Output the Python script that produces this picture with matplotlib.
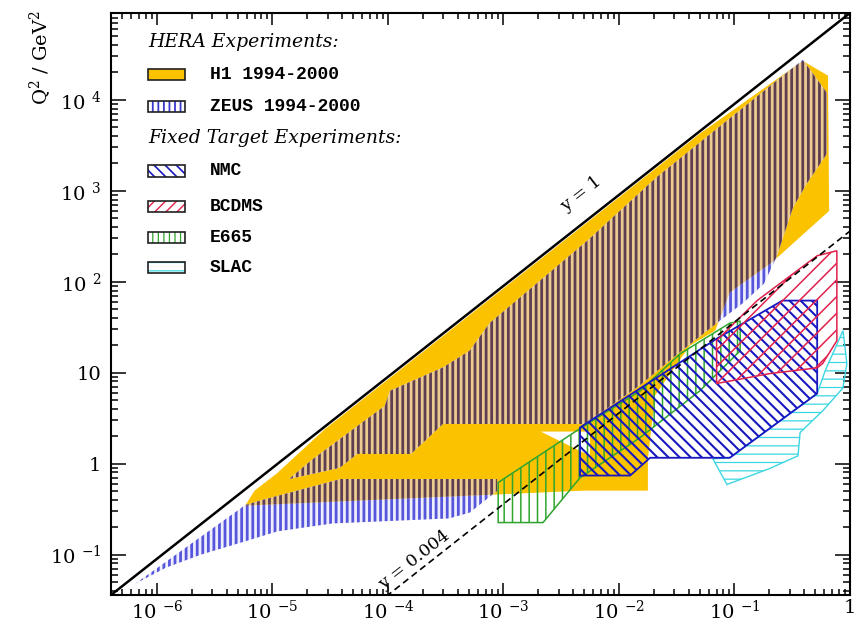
import numpy as np
import matplotlib
matplotlib.use("Agg")
import matplotlib.pyplot as plt
from matplotlib.path import Path
from matplotlib.patches import PathPatch, Polygon, Rectangle
from matplotlib.ticker import LogLocator, NullFormatter

plt.rcParams['font.family'] = ['DejaVu Serif']
plt.rcParams['mathtext.fontset'] = 'dejavuserif'

# kinematic regions, vertices (x, Q^2 in GeV^2)
h1_x = [5.8e-6, 7.0e-6, 1.09e-5, 2.85e-5, 3.1e-3, 0.050, 0.39, 0.645, 0.66,
        0.21, 0.091, 0.068, 0.041, 0.0205, 0.0178, 0.0178, 4.9e-3, 4.9e-3]
h1_q2 = [0.345, 0.505, 0.78, 2.4, 262, 4230, 26800, 18400, 600,
         162, 76, 29, 19.8, 5.6, 1.13, 0.505, 0.505, 0.345]
# white gap inside the H1 region
h1_hole_x = [1.2e-3, 2.1e-3, 5.6e-3, 5.6e-3]
h1_hole_q2 = [1.22, 2.25, 2.25, 1.22]

zeus_lo_x = [6.5e-7, 5.8e-6, 8.3e-6, 3.8e-5, 8.8e-4, 8.8e-4, 5.1e-4, 3.4e-4,
             3.3e-5, 1.1e-5, 5.8e-6, 2.4e-6, 1.2e-6]
zeus_lo_q2 = [0.048, 0.35, 0.40, 0.67, 0.67, 0.50, 0.29, 0.25,
              0.22, 0.18, 0.14, 0.10, 0.072]
zeus_hi_x = [1.4e-5, 2.2e-5, 6.6e-5, 9.4e-5, 1.04e-4, 3.0e-4, 5.1e-4, 7.6e-4,
             5.3e-3, 2.1e-2, 0.39, 0.63, 0.63, 0.42, 0.32, 0.23, 0.18, 0.12,
             0.07, 0.034, 0.015, 5.6e-3, 5.1e-3, 3.0e-4, 1.6e-4, 5.5e-5, 3.8e-5]
zeus_hi_q2 = [0.68, 1.1, 3.1, 4.3, 6.3, 11.4, 17.4, 35,
              280, 1390, 27500, 11900, 2550, 1190, 650, 184, 95, 59,
              35, 17, 7.2, 3.0, 2.75, 2.75, 1.3, 1.3, 0.9]

nmc_x = [4.6e-3, 4.6e-3, 0.0125, 0.0186, 0.091, 0.52, 0.52, 0.26, 0.070]
nmc_q2 = [2.5, 0.74, 0.74, 1.16, 1.16, 5.9, 62, 62, 23.6]

bcdms_x = [0.070, 0.070, 0.20, 0.52, 0.58, 0.77, 0.77, 0.52, 0.157]
bcdms_q2 = [22.5, 7.6, 9.75, 11.3, 12.6, 22.5, 219, 193, 62]

e665_x = [9.0e-4, 9.0e-4, 2.2e-3, 4.6e-3, 0.0152, 0.050, 0.112, 0.112, 0.091,
          0.034, 0.0152, 4.3e-3]
e665_q2 = [0.62, 0.225, 0.225, 0.70, 1.93, 6.3, 17.4, 37, 35, 16.2, 6.3, 2.3]

slac_x = [0.065, 0.091, 0.52, 0.61, 0.87, 0.94, 0.87, 0.58, 0.37, 0.355,
          0.20, 0.086]
slac_q2 = [1.13, 1.16, 5.9, 10.5, 29, 12.6, 6.8, 3.8, 2.2, 1.22, 0.88, 0.59]

# Q^2 = s x y
s_gev2 = 9.0e4
y_values = [1.0, 0.004]

xtick_vals = [1e-6, 1e-5, 1e-4, 1e-3, 1e-2, 1e-1, 1]
xtick_labels = ['10 $^{-6}$', '10 $^{-5}$', '10 $^{-4}$', '10 $^{-3}$',
                '10 $^{-2}$', '10 $^{-1}$', '1']
ytick_vals = [1e-1, 1, 10, 1e2, 1e3, 1e4]
ytick_labels = ['10 $^{-1}$', '1', '10', '10 $^{2}$', '10 $^{3}$', '10 $^{4}$']

legend_names = ['H1 1994-2000', 'ZEUS 1994-2000', 'NMC', 'BCDMS', 'E665', 'SLAC']

YELLOW = '#fbc200'


# hatch line width is taken from rcParams, so set it while each patch draws
class HPolygon(Polygon):
    def __init__(self, *args, hlw=1.0, **kw):
        with plt.rc_context({'hatch.linewidth': hlw}):
            super().__init__(*args, **kw)
        self._hlw = hlw
        if hasattr(self, 'set_hatch_linewidth'):
            self.set_hatch_linewidth(hlw)

    def draw(self, renderer):
        with plt.rc_context({'hatch.linewidth': self._hlw}):
            super().draw(renderer)


class HRect(Rectangle):
    def __init__(self, *args, hlw=1.0, **kw):
        with plt.rc_context({'hatch.linewidth': hlw}):
            super().__init__(*args, **kw)
        self._hlw = hlw
        if hasattr(self, 'set_hatch_linewidth'):
            self.set_hatch_linewidth(hlw)

    def draw(self, renderer):
        with plt.rc_context({'hatch.linewidth': self._hlw}):
            super().draw(renderer)


def hatched(xs, ys, hatch, color, hlw, lw=1.0, face='none', z=3):
    return HPolygon(np.column_stack([xs, ys]), closed=True, facecolor=face,
                    edgecolor=color, hatch=hatch, linewidth=lw, zorder=z,
                    hlw=hlw)


fig = plt.figure(figsize=(8.66, 6.29), dpi=100)
ax = fig.add_axes([0.1282, 0.0541, 0.8533, 0.9253])
ax.set_xscale('log')
ax.set_yscale('log')
ax.set_xlim(4e-7, 1)
ax.set_ylim(0.036, 9e4)

# H1 (yellow) with its hole
outer = Path(np.column_stack([h1_x, h1_q2]), closed=True)
hole = np.column_stack([h1_hole_x, h1_hole_q2])[::-1]
h1_path = Path.make_compound_path(outer, Path(hole, closed=True))
h1 = PathPatch(h1_path, facecolor=YELLOW, edgecolor='none', zorder=1)
ax.add_patch(h1)

# ZEUS: blue stripes on white, brown stripes where it lies on top of H1
for zx, zq in [(zeus_lo_x, zeus_lo_q2), (zeus_hi_x, zeus_hi_q2)]:
    p = hatched(zx, zq, '|||', '#5656dc', 2.0, lw=0, face='#eeeefc', z=2)
    ax.add_patch(p)
    p2 = hatched(zx, zq, '|||', '#5e3e50', 2.0, lw=0, face='#ebcb90', z=2.1)
    ax.add_patch(p2)
    p2.set_clip_path(h1)

ax.add_patch(hatched(e665_x, e665_q2, '||', '#2fa52f', 1.1, lw=1.1, z=3))
ax.add_patch(hatched(slac_x, slac_q2, '--', '#3cd6e2', 0.9, lw=1.0, z=3.1))
ax.add_patch(hatched(nmc_x, nmc_q2, '\\\\\\', '#1818c0', 1.5, lw=1.3, z=3.2))
ax.add_patch(hatched(bcdms_x, bcdms_q2, '//', '#e0204c', 1.1, lw=1.1, z=3.3))

# y = const lines
xl = np.array(ax.get_xlim())
ax.plot(xl, s_gev2 * xl * y_values[0], color='black', lw=1.8, zorder=5)
ax.plot(xl, s_gev2 * xl * y_values[1], color='black', lw=1.2,
        dashes=(4, 2.5), zorder=5)
ax.text(4.7e-3, 930, 'y = 1', rotation=38, ha='center', va='center',
        fontsize=12.5, zorder=6)
ax.text(1.7e-4, 0.086, 'y = 0.004', rotation=38, ha='center', va='center',
        fontsize=12.5, zorder=6)

# axes and ticks
ax.set_xticks(xtick_vals)
ax.set_xticklabels(xtick_labels)
ax.set_yticks(ytick_vals)
ax.set_yticklabels(ytick_labels)
for a in (ax.xaxis, ax.yaxis):
    a.set_minor_locator(LogLocator(base=10, subs=np.arange(2, 10), numticks=20))
    a.set_minor_formatter(NullFormatter())
ax.tick_params(which='both', direction='in', top=True, right=True,
               width=1.1, labelsize=14)
ax.tick_params(axis='y', which='major', length=10.5, pad=7)
ax.tick_params(axis='y', which='minor', length=5)
ax.tick_params(axis='x', which='major', length=8.5, pad=3)
ax.tick_params(axis='x', which='minor', length=4)
for sp in ax.spines.values():
    sp.set_linewidth(1.5)

fig.text(40 / 866, 1 - 58 / 629, 'Q$^2$ / GeV$^2$', rotation=90,
         ha='center', va='center', fontsize=14)

# legend, built by hand
ax.text(0.050, 0.950, 'HERA Experiments:', style='italic', fontsize=13.5,
        va='center', transform=ax.transAxes)
ax.text(0.050, 0.785, 'Fixed Target Experiments:', style='italic',
        fontsize=13.5, va='center', transform=ax.transAxes)
leg_y = [0.895, 0.840, 0.7285, 0.6667, 0.615, 0.562]
leg_style = [('', '#000000', YELLOW, 0.5),
             ('|||', '#3a3ad0', 'white', 1.3),
             ('\\\\\\', '#1818c0', 'white', 1.2),
             ('///', '#e0204c', 'white', 1.0),
             ('|||', '#2fa52f', 'white', 0.9),
             ('--', '#3cd6e2', 'white', 0.9)]
for yy, name, (hch, col, face, hlw) in zip(leg_y, legend_names, leg_style):
    ax.add_patch(HRect((0.050, yy - 0.0095), 0.050, 0.019,
                       transform=ax.transAxes, facecolor=face, edgecolor=col,
                       hatch=hch or None, linewidth=0, zorder=7, hlw=hlw))
    ax.add_patch(Rectangle((0.050, yy - 0.0095), 0.050, 0.019,
                           transform=ax.transAxes, fill=False,
                           edgecolor='#202020', linewidth=1.2, zorder=8))
    ax.text(0.134, yy, name, family='Liberation Mono', weight='bold',
            fontsize=13, va='center', transform=ax.transAxes)

fig.savefig('out.png', dpi=100)
